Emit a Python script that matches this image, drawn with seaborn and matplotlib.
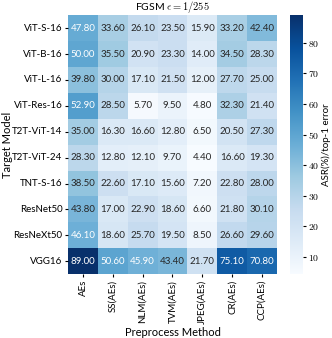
import numpy as np
import pandas as pd
import seaborn as sns
import matplotlib.pyplot as plt
from matplotlib.ticker import FuncFormatter

# Target models (rows) and preprocessing methods (columns)
models = ['ViT-S-16', 'ViT-B-16', 'ViT-L-16', 'ViT-Res-16', 'T2T-ViT-14',
          'T2T-ViT-24', 'TNT-S-16', 'ResNet50', 'ResNeXt50', 'VGG16']
methods = ['AEs', 'SS(AEs)', 'NLM(AEs)', 'TVM(AEs)', 'JPEG(AEs)', 'CR(AEs)', 'CCP(AEs)']

aes = [47.8, 50.0, 39.8, 52.9, 35.0, 28.3, 38.5, 43.8, 46.1, 89.0]
ss = [33.6, 35.5, 30.0, 28.5, 16.3, 12.8, 22.6, 17.0, 18.6, 50.6]
nlm = [26.1, 20.9, 17.1, 5.7, 16.6, 12.1, 17.1, 22.9, 25.7, 45.9]
tvm = [23.5, 23.3, 21.5, 9.5, 12.8, 9.7, 15.6, 18.6, 19.5, 43.4]
jpeg = [15.9, 14.0, 12.0, 4.8, 6.5, 4.4, 7.2, 6.6, 8.5, 21.7]
cr = [33.2, 34.5, 27.7, 32.3, 20.5, 16.6, 22.8, 21.8, 26.6, 75.1]
ccp = [42.4, 28.3, 25.0, 21.4, 27.3, 19.3, 28.0, 30.1, 29.6, 70.8]

df = pd.DataFrame(np.column_stack([aes, ss, nlm, tvm, jpeg, cr, ccp]),
                  index=models, columns=methods)

plt.rcParams['font.family'] = ['Lato', 'DejaVu Sans']
plt.rcParams['mathtext.fontset'] = 'cm'

fig = plt.figure(figsize=(3.32, 3.38), dpi=100)
ax = fig.add_axes([0.205, 0.189, 0.629, 0.766])
cax = fig.add_axes([0.873, 0.189, 0.039, 0.766])

sns.heatmap(df, ax=ax, cbar_ax=cax, cmap='Blues', annot=True, fmt='.2f',
            annot_kws={'fontsize': 7}, cbar_kws={'label': 'ASR(%)/top-1 error'})

ax.set_title(r'FGSM $\epsilon = 1/255$', fontsize=7.5, pad=2)
ax.set_xlabel('Preprocess Method', fontsize=8, labelpad=2)
ax.set_ylabel('Target Model', fontsize=8)
ax.yaxis.set_label_coords(-0.265, 0.5)
ax.tick_params(axis='both', labelsize=7, length=2, pad=2)
plt.setp(ax.get_xticklabels(), rotation=90)
plt.setp(ax.get_yticklabels(), rotation=0)

cax.yaxis.set_major_formatter(FuncFormatter(lambda v, p: r'$%d$' % v))
cax.tick_params(labelsize=7, length=2, pad=2)
cax.set_ylabel('ASR(%)/top-1 error', fontsize=7, labelpad=1)

plt.savefig('out.png', dpi=100)
